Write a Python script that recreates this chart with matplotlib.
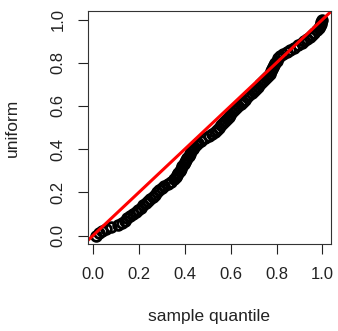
import numpy as np
import matplotlib
matplotlib.use("Agg")
import matplotlib.pyplot as plt

plt.rcParams['font.family'] = ['Liberation Sans', 'DejaVu Sans']

# ── datos ──────────────────────────────────────────────────────────────────
uniform = [0.00, 0.01, 0.02, 0.03, 0.04, 0.05, 0.06, 0.07, 0.08, 0.09,
           0.10, 0.11, 0.12, 0.13, 0.14, 0.15, 0.16, 0.17, 0.18, 0.19,
           0.20, 0.21, 0.22, 0.23, 0.24, 0.25, 0.26, 0.27, 0.28, 0.29,
           0.30, 0.31, 0.32, 0.33, 0.34, 0.35, 0.36, 0.37, 0.38, 0.39,
           0.40, 0.41, 0.42, 0.43, 0.44, 0.45, 0.46, 0.47, 0.48, 0.49,
           0.50, 0.51, 0.52, 0.53, 0.54, 0.55, 0.56, 0.57, 0.58, 0.59,
           0.60, 0.61, 0.62, 0.63, 0.64, 0.65, 0.66, 0.67, 0.68, 0.69,
           0.70, 0.71, 0.72, 0.73, 0.74, 0.75, 0.76, 0.77, 0.78, 0.79,
           0.80, 0.81, 0.82, 0.83, 0.84, 0.85, 0.86, 0.87, 0.88, 0.89,
           0.90, 0.91, 0.92, 0.93, 0.94, 0.95, 0.96, 0.97, 0.98, 0.99,
           1.00]
sample_q = [0.015, 0.028, 0.040, 0.056, 0.080, 0.108, 0.125, 0.138, 0.150, 0.163,
            0.175, 0.186, 0.197, 0.208, 0.219, 0.230, 0.240, 0.250, 0.260, 0.270,
            0.280, 0.290, 0.300, 0.310, 0.326, 0.342, 0.353, 0.360, 0.366, 0.372,
            0.378, 0.384, 0.389, 0.395, 0.400, 0.406, 0.411, 0.417, 0.422, 0.428,
            0.435, 0.441, 0.448, 0.456, 0.472, 0.488, 0.504, 0.520, 0.530, 0.540,
            0.549, 0.558, 0.567, 0.575, 0.583, 0.591, 0.599, 0.607, 0.615, 0.625,
            0.634, 0.644, 0.653, 0.663, 0.672, 0.681, 0.691, 0.700, 0.710, 0.719,
            0.728, 0.737, 0.745, 0.754, 0.762, 0.770, 0.775, 0.779, 0.784, 0.788,
            0.792, 0.800, 0.807, 0.815, 0.829, 0.844, 0.858, 0.875, 0.893, 0.910,
            0.921, 0.933, 0.944, 0.955, 0.965, 0.975, 0.985, 0.989, 0.993, 0.996,
            1.000]
ticks = [0.0, 0.2, 0.4, 0.6, 0.8, 1.0]
tick_labels = ['0.0', '0.2', '0.4', '0.6', '0.8', '1.0']

# ── figura ─────────────────────────────────────────────────────────────────
fig = plt.figure(figsize=(3.38, 3.31), dpi=100, facecolor='white')
ax = fig.add_axes([0.260, 0.262, 0.719, 0.705])

ax.plot(sample_q, uniform, 'o', mfc='none', mec='black', ms=7, mew=2.0)
ax.axline((0, 0), slope=1, color='#ff0000', lw=2.2)

ax.set_xlim(-0.022, 1.037)
ax.set_ylim(-0.04, 1.04)

ax.set_xticks(ticks)
ax.set_xticklabels(tick_labels)
ax.set_yticks(ticks)
ax.set_yticklabels(tick_labels, rotation=90, va='center')
ax.tick_params(length=7, width=0.8, labelsize=12, pad=9, colors='#222222')

for sp in ax.spines.values():
    sp.set_linewidth(0.8)
    sp.set_color('#333333')

ax.set_xlabel('sample quantile', fontsize=12.5, labelpad=20, color='#222222')
ax.set_ylabel('uniform', fontsize=12.5, labelpad=22, color='#222222')

fig.savefig('out.png', dpi=100)
